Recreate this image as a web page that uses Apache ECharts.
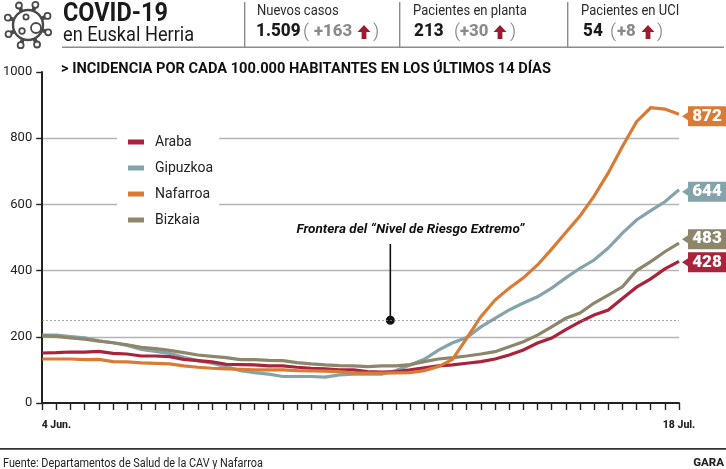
<!DOCTYPE html>
<html><head><meta charset="utf-8">
<style>html,body{margin:0;padding:0;background:#fff}#c{width:726px;height:469px}</style>
<script src="https://cdn.jsdelivr.net/npm/echarts@6/dist/echarts.min.js"></script>
</head><body><div id="c"></div>
<script>
// day labels, 3 Jun (index 0) to 18 Jul (index 45)
const tickLabels = {1:'4 Jun.',45:'18 Jul.'};
const yTicks = [0,200,400,600,800,1000];
const araba = [151,152,154,154,156,150,148,142,142,140,132,128,124,117,116,115,112,112,108,105,103,100,100,95,93,95,100,106,112,115,120,125,133,145,160,181,196,222,245,266,281,316,350,375,405,428];
const gipuzkoa = [205,205,201,197,188,182,174,162,156,150,138,128,120,110,98,92,87,80,80,80,78,85,87,87,87,98,115,132,160,182,198,230,256,281,302,321,347,378,407,432,468,513,553,581,608,644];
const nafarroa = [133,133,133,131,132,125,124,121,120,118,112,108,105,103,102,100,100,100,98,97,96,95,90,90,90,91,92,98,110,132,196,261,311,347,378,417,465,515,565,625,695,775,850,892,888,872];
const bizkaia = [203,201,197,193,187,182,176,168,164,159,152,145,141,137,131,131,129,128,122,118,115,113,112,110,112,112,116,125,133,137,142,148,155,170,185,205,230,256,272,302,326,351,400,427,457,483];
const threshold = 250;
const noteX = 24.6, noteTop = 480;
const noteText = 'Frontera del “Nivel de Riesgo Extremo”';
const stats = [
 {name:'Nuevos casos', total:'1.509', diff:'+163'},
 {name:'Pacientes en planta', total:'213', diff:'+30'},
 {name:'Pacientes en UCI', total:'54', diff:'+8'}
];
const F='Roboto, sans-serif';
const pair = a => a.map((v,i)=>[i,v]);
const flag = 'path://M0,10 L6,6 L6,0 L44,0 L44,20 L6,20 L6,14 Z';
function line(name,data,color,shift){
 return {name,type:'line',data:pair(data),showSymbol:false,symbol:'none',lineStyle:{width:3.2,color,join:'miter'},itemStyle:{color},
  animation:false,silent:true,z:3,
  markPoint:{silent:true,animation:false,symbol:flag,symbolSize:[44,20],symbolOffset:[25,shift],
   itemStyle:{color},
   label:{show:true,position:'inside',offset:[3,0],color:'#fff',fontFamily:F,fontWeight:900,fontSize:17,formatter:'{c}'},
   data:[{coord:[data.length-1,data[data.length-1]],value:data[data.length-1]}]}};
}
const g=[];
const t=(x,y,text,size,weight,color,sx,extra)=>g.push({type:'text',x,y,scaleX:sx||1,z:10,silent:true,style:Object.assign({text,fontFamily:F,fontSize:size,fontWeight:weight,fill:color,verticalAlign:'middle'},extra||{})});
const r=(x,y,w,h,c)=>g.push({type:'rect',shape:{x,y,width:w,height:h},style:{fill:c},silent:true,z:9});
// virus icon
const ic='#4a4a4a';
for(let k=0;k<8;k++){const a=k*Math.PI/4+0.35,c=Math.cos(a),s=Math.sin(a);
 g.push({type:'line',shape:{x1:28+14*c,y1:25+14*s,x2:28+20*c,y2:25+20*s},style:{stroke:ic,lineWidth:4},silent:true});
 g.push({type:'circle',shape:{cx:28+21.5*c,cy:25+21.5*s,r:3},style:{fill:'#fff',stroke:ic,lineWidth:1.8},silent:true});}
g.push({type:'circle',shape:{cx:28,cy:25,r:15},style:{fill:'#fff',stroke:ic,lineWidth:2.4},silent:true});
[[26,17,2.6],[22,31,2.8],[36,28,5]].forEach(c=>g.push({type:'circle',shape:{cx:c[0],cy:c[1],r:c[2]},style:{fill:'#fff',stroke:ic,lineWidth:1.8},silent:true}));
// header
t(63,15,'COVID-19',25.5,700,'#1a1a1a',0.92);
t(63,36,'en Euskal Herria',20,400,'#1a1a1a',0.91);
r(62,46.5,662,1.6,'#8c8c8c');
[244,399,567].forEach(x=>r(x,2,1.4,45,'#8c8c8c'));
const nameX=[257,413,581], totalX=[256,414,583], openX=[303,454,610], diffX=[314,460,617], arrowX=[364,500,648], closeX=[373,510,657];
const ar=(x,y)=>g.push({type:'polygon',shape:{points:[[x,y-7],[x+6.5,y],[x+2.4,y],[x+2.4,y+7],[x-2.4,y+7],[x-2.4,y],[x-6.5,y]]},style:{fill:'#9b1c2e'},silent:true,z:10});
stats.forEach((s,i)=>{
 t(nameX[i],11,s.name,14,400,'#2a2a2a',0.93);
 t(totalX[i],32,s.total,17.5,800,'#1a1a1a',0.98);
 t(openX[i],32,'(',19,300,'#808080');
 t(diffX[i],32,s.diff,16.5,800,'#8a8a8a',1.02);
 ar(arrowX[i],32);
 t(closeX[i],32,')',19,300,'#808080');
});
t(61,69.5,'> INCIDENCIA POR CADA 100.000 HABITANTES EN LOS ÚLTIMOS 14 DÍAS',15.5,700,'#111',0.943);
t(410.5,229.5,noteText,13,700,'#111',1.04,{align:'center',fontStyle:'italic'});
r(0,448,726,1.8,'#333');
t(3,463.5,'Fuente: Departamentos de Salud de la CAV y Nafarroa',12,400,'#222',0.905);
t(724,463.5,'GARA',11.5,800,'#222',1,{align:'right'});

const chart=echarts.init(document.getElementById('c'),null,{renderer:'canvas'});
chart.setOption({
 animation:false,backgroundColor:'#fff',
 grid:{left:41,right:47,top:72,bottom:66,containLabel:false},
 xAxis:{type:'value',min:0,max:45,interval:1,
  axisLine:{show:true,onZero:false,lineStyle:{color:'#222',width:2}},
  axisTick:{show:true,length:7,lineStyle:{color:'#222',width:1.4}},
  splitLine:{show:false},
  axisLabel:{show:true,margin:17,color:'#222',fontFamily:F,fontWeight:800,fontSize:10.5,hideOverlap:false,showMinLabel:true,showMaxLabel:true,formatter:v=>tickLabels[v]||''}},
 yAxis:{type:'value',min:0,max:1000,interval:200,
  axisLine:{show:true,lineStyle:{color:'#222',width:2}},
  axisTick:{show:true,length:6,lineStyle:{color:'#222',width:1.4}},
  splitLine:{show:true,showMaxLine:false,showMinLine:false,lineStyle:{color:'#b5b5b5',width:1.4}},
  axisLabel:{margin:10,color:'#222',fontFamily:F,fontSize:13,formatter:v=>String(v)}},
 legend:{left:117,top:130,orient:'vertical',data:['Araba','Gipuzkoa','Nafarroa','Bizkaia'],backgroundColor:'#fff',padding:[4,6,4,11],itemWidth:16,itemHeight:5,itemGap:10,icon:'rect',selectedMode:false,
  textStyle:{fontFamily:F,fontSize:14,color:'#222',padding:[0,0,0,6],width:53,height:16,lineHeight:16},z:5},
 graphic:g,
 series:[
  line('Gipuzkoa',gipuzkoa,'#84a3aa',2),
  line('Araba',araba,'#a9233a',1),
  line('Bizkaia',bizkaia,'#8d866a',-4),
  line('Nafarroa',nafarroa,'#d97b35',2),
  {name:'Frontera',type:'line',data:[{value:[noteX,threshold],symbol:'circle',symbolSize:9},{value:[noteX,noteTop],symbol:'none'}],
   showSymbol:true,showAllSymbol:true,lineStyle:{color:'#111',width:1.6},itemStyle:{color:'#111'},silent:true,animation:false,z:4,
   markLine:{silent:true,animation:false,symbol:'none',label:{show:false},lineStyle:{type:[1.5,2.5],color:'#8a8a8a',width:1.2},data:[{yAxis:threshold}]}}
 ]
});
</script></body></html>
